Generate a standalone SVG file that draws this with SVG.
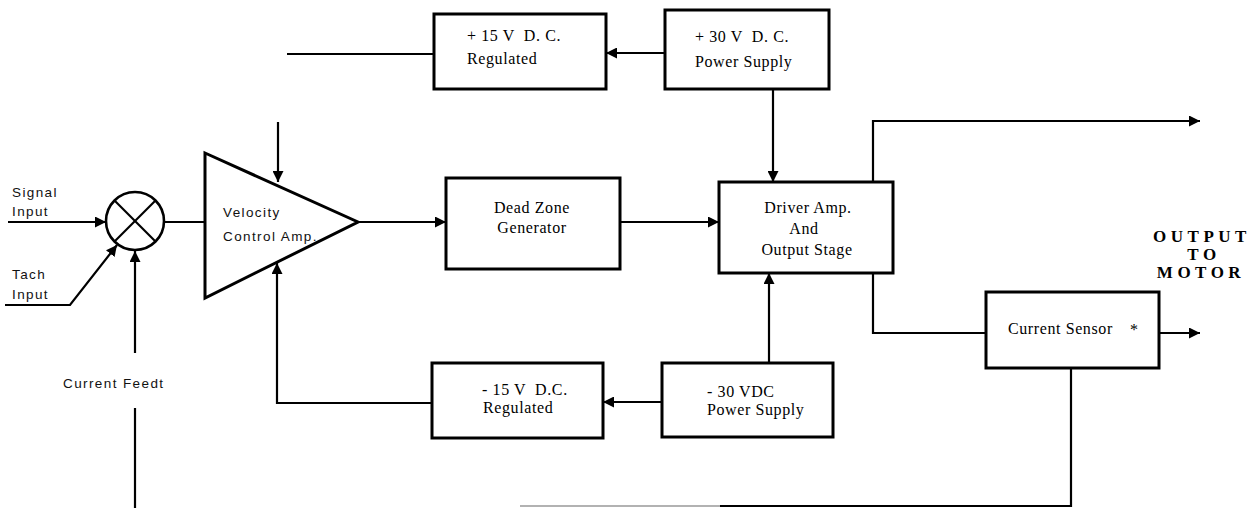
<svg xmlns="http://www.w3.org/2000/svg" width="1256" height="508" viewBox="0 0 1256 508">
<style>
.box{fill:#fff;stroke:#000;stroke-width:3}
.ln{fill:none;stroke:#000;stroke-width:2.2}
.arr{marker-end:url(#ah)}
.t{font-family:"Liberation Serif",serif;font-size:16px;fill:#000;letter-spacing:0.6px;white-space:pre}
.s{font-family:"Liberation Sans",sans-serif;font-size:13.5px;fill:#111;letter-spacing:1.4px}
.big{font-family:"Liberation Serif",serif;font-size:17px;font-weight:bold;fill:#000;letter-spacing:4.5px;text-anchor:middle}
.c{text-anchor:middle}
</style>
<defs>
<marker id="ah" markerUnits="userSpaceOnUse" markerWidth="12" markerHeight="11" refX="11" refY="5.5" orient="auto">
<path d="M0,0 L11,5.5 L0,11 z" fill="#000"/>
</marker>
</defs>
<rect width="1256" height="508" fill="#fff"/>

<g id="connectors">
<line class="ln arr" x1="8" y1="222" x2="106" y2="222"/>
<polyline class="ln arr" points="5,305 70,305 117,245"/>
<line class="ln arr" x1="135" y1="353" x2="135" y2="251"/>
<line class="ln" x1="135" y1="408" x2="135" y2="508"/>
<line class="ln" x1="164" y1="222" x2="205" y2="222"/>
<line class="ln" x1="287" y1="54" x2="433" y2="54"/>
<line class="ln arr" x1="278" y1="122" x2="278" y2="182"/>
<polyline class="ln arr" points="432,403 277,403 277,263"/>
<line class="ln arr" x1="665" y1="53" x2="606" y2="53"/>
<line class="ln arr" x1="662" y1="402" x2="603" y2="402"/>
<line class="ln arr" x1="773" y1="89" x2="773" y2="182"/>
<line class="ln arr" x1="769" y1="363" x2="769" y2="273"/>
<line class="ln arr" x1="358" y1="222" x2="446" y2="222"/>
<line class="ln arr" x1="620" y1="222" x2="719" y2="222"/>
<polyline class="ln arr" points="873,182 873,121 1200,121"/>
<polyline class="ln" points="873,273 873,333 986,333"/>
<line class="ln arr" x1="1159" y1="333" x2="1200" y2="333"/>
<polyline class="ln" points="1071,368 1071,506 720,506"/>
<line x1="720" y1="506" x2="520" y2="506" stroke="#999" stroke-width="1.5"/>
</g>

<g id="sum">
<circle cx="135" cy="221" r="29" fill="#fff" stroke="#000" stroke-width="2.6"/>
<line class="ln" x1="114.5" y1="200.5" x2="155.5" y2="241.5"/>
<line class="ln" x1="155.5" y1="200.5" x2="114.5" y2="241.5"/>
</g>

<g id="signal-input">
<text class="s" x="12" y="197">Signal</text>
<text class="s" x="12" y="216">Input</text>
</g>
<g id="tach-input">
<text class="s" x="12" y="279">Tach</text>
<text class="s" x="12" y="299">Input</text>
</g>
<g id="current-feedback">
<text class="s" x="63" y="388">Current Feedt</text>
</g>

<g id="vca">
<polygon points="205,153 358,222 205,298" fill="#fff" stroke="#000" stroke-width="3" stroke-linejoin="miter"/>
<text class="s" x="223" y="217">Velocity</text>
<text class="s" x="223" y="241">Control Amp.</text>
</g>

<g id="p15">
<rect class="box" x="434" y="14" width="172" height="75"/>
<text class="t" x="467" y="41">+ 15 V  D. C.</text>
<text class="t" x="467" y="64">Regulated</text>
</g>

<g id="p30">
<rect class="box" x="665" y="10" width="164" height="79"/>
<text class="t" x="695" y="42">+ 30 V  D. C.</text>
<text class="t" x="695" y="67">Power Supply</text>
</g>

<g id="deadzone">
<rect class="box" x="446" y="178" width="174" height="91"/>
<text class="t c" x="532" y="213">Dead Zone</text>
<text class="t c" x="532" y="233">Generator</text>
</g>

<g id="driver">
<rect class="box" x="719" y="182" width="174" height="91"/>
<text class="t c" x="808" y="213">Driver Amp.</text>
<text class="t c" x="804" y="234">And</text>
<text class="t c" x="807" y="255">Output Stage</text>
</g>

<g id="m15">
<rect class="box" x="432" y="363" width="171" height="75"/>
<text class="t" x="482" y="395">- 15 V  D.C.</text>
<text class="t" x="483" y="413">Regulated</text>
</g>

<g id="m30">
<rect class="box" x="662" y="363" width="171" height="74"/>
<text class="t" x="707" y="397">- 30 VDC</text>
<text class="t" x="707" y="415">Power Supply</text>
</g>

<g id="sensor">
<rect class="box" x="986" y="292" width="173" height="76"/>
<text class="t" x="1008" y="334">Current Sensor</text>
<text class="t" x="1130" y="335">*</text>
</g>

<g id="output-label">
<text class="big" x="1202" y="242">OUTPUT</text>
<text class="big" x="1204" y="260">TO</text>
<text class="big" x="1201" y="278">MOTOR</text>
</g>
</svg>
